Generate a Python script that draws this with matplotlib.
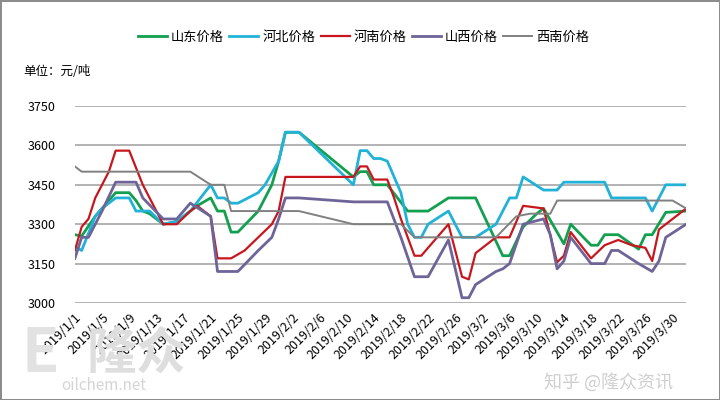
import numpy as np
import pandas as pd
import matplotlib
matplotlib.use('Agg')
import matplotlib.pyplot as plt

plt.rcParams['font.family'] = ['Noto Sans CJK SC', 'DejaVu Sans']

start = pd.Timestamp('2019-01-01')

# days after 2019/1/1 where each line turns, and the price there
sd_day = [0, 1, 3, 5, 6, 8, 9, 10, 11, 13, 15, 17, 18, 20, 21, 22, 23, 24, 27, 28, 29, 30, 31, 33,
          41, 42, 43, 44, 46, 49, 52, 55, 59, 63, 64, 66, 68, 69, 72, 73, 76, 77, 78, 80, 83, 84, 85, 87, 90]
sd_val = [3260, 3255, 3330, 3390, 3420, 3420, 3390, 3350, 3340, 3300, 3310, 3350, 3370, 3400, 3350, 3350, 3270, 3270,
          3350, 3400, 3450, 3540, 3650, 3650, 3480, 3500, 3500, 3450, 3450, 3350, 3350, 3400, 3400, 3180, 3180,
          3290, 3340, 3360, 3225, 3300, 3220, 3220, 3260, 3260, 3205, 3260, 3260, 3345, 3350]

hb_day = [0, 1, 3, 4, 6, 8, 9, 11, 13, 15, 17, 20, 21, 22, 23, 24, 27, 28, 30, 31, 33, 41, 42, 43, 44, 45, 46,
          48, 49, 50, 51, 52, 55, 57, 59, 62, 64, 65, 66, 69, 71, 72, 78, 79, 84, 85, 87, 90]
hb_val = [3215, 3200, 3330, 3360, 3400, 3400, 3350, 3350, 3300, 3310, 3350, 3450, 3400, 3400, 3380, 3380, 3420,
          3450, 3540, 3650, 3650, 3450, 3580, 3580, 3550, 3550, 3540, 3420, 3300, 3250, 3250, 3300, 3350, 3250,
          3250, 3300, 3400, 3400, 3480, 3430, 3430, 3460, 3460, 3400, 3400, 3350, 3450, 3450]

hn_day = [0, 1, 2, 3, 5, 6, 8, 10, 11, 13, 15, 17, 18, 20, 21, 23, 25, 27, 29, 30, 31, 41, 42, 43, 44, 46,
          47, 48, 50, 51, 55, 57, 58, 59, 62, 64, 66, 69, 71, 72, 73, 76, 78, 80, 82, 84, 85, 86, 88, 90]
hn_val = [3200, 3290, 3320, 3400, 3500, 3580, 3580, 3450, 3400, 3300, 3300, 3350, 3370, 3330, 3170, 3170, 3200,
          3250, 3300, 3350, 3480, 3480, 3520, 3520, 3470, 3470, 3400, 3320, 3180, 3180, 3300, 3100, 3090, 3190,
          3250, 3250, 3370, 3360, 3155, 3180, 3270, 3170, 3220, 3240, 3220, 3210, 3160, 3280, 3320, 3360]

sx_day = [0, 1, 2, 4, 6, 9, 10, 13, 15, 17, 20, 21, 24, 27, 29, 30, 31, 33, 41, 46, 48, 50, 52, 55, 57, 58,
          59, 62, 63, 64, 66, 69, 70, 71, 72, 73, 76, 78, 79, 80, 83, 85, 86, 87, 90]
sx_val = [3170, 3250, 3250, 3350, 3460, 3460, 3400, 3320, 3320, 3380, 3330, 3120, 3120, 3200, 3250, 3320, 3400,
          3400, 3385, 3385, 3250, 3100, 3100, 3240, 3020, 3020, 3070, 3120, 3130, 3150, 3300, 3320, 3260, 3130,
          3160, 3250, 3150, 3150, 3200, 3200, 3150, 3120, 3160, 3250, 3300]

xn_day = [0, 1, 17, 20, 22, 23, 33, 41, 48, 50, 62, 65, 67, 70, 71, 88, 90]
xn_val = [3520, 3500, 3500, 3450, 3450, 3350, 3350, 3300, 3300, 3250, 3250, 3330, 3340, 3340, 3390, 3390, 3360]

names = ['山东价格', '河北价格', '河南价格', '山西价格', '西南价格']
colors = ['#12A050', '#22B2D8', '#C8161E', '#6E6498', '#808080']
widths = [2.0, 2.0, 1.6, 2.0, 1.4]
series = [(sd_day, sd_val), (hb_day, hb_val), (hn_day, hn_val), (sx_day, sx_val), (xn_day, xn_val)]

fig = plt.figure(figsize=(7.2, 4.0), dpi=100)
fig.patch.set_edgecolor('#8c8c8c')
fig.patch.set_linewidth(2)

# watermarks, drawn first so they sit behind the axis labels
fig.text(0.03, 0.115, 'E', fontsize=44, fontweight='bold', color='#e2e2e2', va='center')
fig.text(0.12, 0.115, '隆众', fontsize=36, fontweight='bold', color='#dedede', va='center')
fig.text(0.085, 0.035, 'oilchem.net', fontsize=11, color='#d4d4d4', va='center')
fig.text(0.755, 0.045, '知乎 @隆众资讯', fontsize=13, color='#cfcfcf', va='center')

ax = fig.add_axes([0.104, 0.2425, 0.849, 0.4925])
ax.patch.set_alpha(0)

for (d, v), name, c, w in zip(series, names, colors, widths):
    dates = start + pd.to_timedelta(d, unit='D')
    ax.plot(dates, v, color=c, lw=w, label=name, solid_joinstyle='round')

ax.set_ylim(3000, 3750)
ax.set_yticks(np.arange(3000, 3751, 150))
ax.set_xlim(start, start + pd.Timedelta(days=90))
ticks = pd.date_range('2019-01-01', '2019-03-30', freq='4D')
ax.set_xticks(ticks)
ax.set_xticklabels([f'{t.year}/{t.month}/{t.day}' for t in ticks], rotation=45,
                   ha='right', rotation_mode='anchor', fontsize=9)
ax.tick_params(axis='y', labelsize=9, length=0, pad=14)
ax.tick_params(axis='x', length=0, pad=6)
ax.grid(axis='y', color='#a6a6a6', lw=1.2)
ax.set_axisbelow(True)
for s in ax.spines.values():
    s.set_visible(False)

fig.legend(loc='center', bbox_to_anchor=(0.505, 0.907), ncol=5, frameon=False,
           fontsize=9.5, handlelength=2.2, handletextpad=0.3, columnspacing=0.4)
fig.text(0.033, 0.822, '单位：元/吨', fontsize=9, va='center')

fig.savefig('out.png', dpi=100, edgecolor=fig.get_edgecolor())
